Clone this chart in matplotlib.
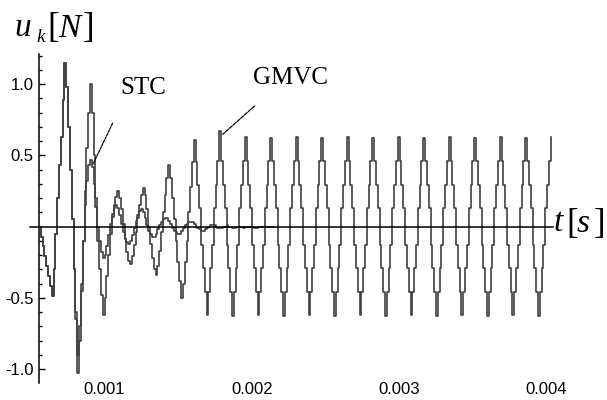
import numpy as np
import matplotlib
matplotlib.use('Agg')
import matplotlib.pyplot as plt
import matplotlib.transforms as mtransforms

# sampling grid of the recorded signals (s)
t_start = 0.000555
dt = 1.2365e-5

# control signal u_k [N], GMVC controller (zero-order hold samples)
gmvc = [0.0, -0.07, -0.14, -0.21, -0.28, -0.35, -0.42, -0.49, -0.3, -0.05,
        0.2, 0.43, 0.63, 0.89, 1.15, 0.98, 0.7, 0.4, 0.05, -0.3,
        -0.65, -1.03, -0.8, -0.45, -0.1, 0.25, 0.55, 0.8, 1.0, 0.8,
        0.5, 0.2, -0.1, -0.3, -0.48, -0.62, -0.5, -0.35, -0.2, -0.05,
        0.07, 0.15, 0.21, 0.25, 0.2, 0.12, 0.02, -0.09, -0.18, -0.24,
        -0.26, -0.21, -0.13, -0.04, 0.06, 0.15, 0.22, 0.27, 0.22, 0.12,
        0.0, -0.12, -0.22, -0.3, -0.34, -0.28, -0.17, -0.04, 0.1, 0.22,
        0.34, 0.43, 0.34, 0.2, 0.05, -0.1, -0.25, -0.38, -0.5, -0.4,
        -0.25, -0.1, 0.1, 0.28, 0.45, 0.61, 0.45, 0.29, 0.13, -0.13,
        -0.29, -0.46, -0.62, -0.46, -0.29, -0.13, 0.13, 0.29, 0.46, 0.67,
        0.46, 0.29, 0.13, -0.13, -0.29, -0.46, -0.63, -0.46, -0.29, -0.13, 0.13, 0.29, 0.46, 0.63,
        0.46, 0.29, 0.13, -0.13, -0.29, -0.46, -0.62, -0.46, -0.29, -0.13, 0.13, 0.29, 0.46, 0.62,
        0.46, 0.29, 0.13, -0.13, -0.29, -0.46, -0.63, -0.46, -0.29, -0.13, 0.13, 0.29, 0.46, 0.63,
        0.46, 0.29, 0.13, -0.13, -0.29, -0.46, -0.62, -0.46, -0.29, -0.13, 0.13, 0.29, 0.46, 0.62,
        0.46, 0.29, 0.13, -0.13, -0.29, -0.46, -0.63, -0.46, -0.29, -0.13, 0.13, 0.29, 0.46, 0.63,
        0.46, 0.29, 0.13, -0.13, -0.29, -0.46, -0.62, -0.46, -0.29, -0.13, 0.13, 0.29, 0.46, 0.62,
        0.46, 0.29, 0.13, -0.13, -0.29, -0.46, -0.63, -0.46, -0.29, -0.13, 0.13, 0.29, 0.46, 0.63,
        0.46, 0.29, 0.13, -0.13, -0.29, -0.46, -0.62, -0.46, -0.29, -0.13, 0.13, 0.29, 0.46, 0.62,
        0.46, 0.29, 0.13, -0.13, -0.29, -0.46, -0.63, -0.46, -0.29, -0.13, 0.13, 0.29, 0.46, 0.63,
        0.46, 0.29, 0.13, -0.13, -0.29, -0.46, -0.62, -0.46, -0.29, -0.13, 0.13, 0.29, 0.46, 0.62,
        0.46, 0.29, 0.13, -0.13, -0.29, -0.46, -0.63, -0.46, -0.29, -0.13, 0.13, 0.29, 0.46, 0.63,
        0.46, 0.29, 0.13, -0.13, -0.29, -0.46, -0.62, -0.46, -0.29, -0.13, 0.13, 0.29, 0.46, 0.62,
        0.46, 0.29, 0.13, -0.13, -0.29, -0.46, -0.63, -0.46, -0.29, -0.13, 0.13, 0.29, 0.46, 0.63]

# control signal u_k [N], STC controller
stc = [0.0, -0.07, -0.14, -0.21, -0.28, -0.35, -0.42, -0.49, -0.3, -0.05,
       0.2, 0.43, 0.63, 0.89, 1.15, 0.98, 0.7, 0.4, 0.05, -0.3,
       -0.6, -0.9, -0.7, -0.4, -0.1, 0.15, 0.32, 0.43, 0.47, 0.42,
       0.3, 0.14, 0.0, -0.1, -0.18, -0.22, -0.2, -0.14, -0.06, 0.02,
       0.09, 0.13, 0.15, 0.13, 0.08, 0.02, -0.04, -0.09, -0.11, -0.12,
       -0.1, -0.06, -0.01, 0.04, 0.08, 0.11, 0.12, 0.1, 0.06, 0.01,
       -0.03, -0.05, -0.07, -0.07, -0.05, -0.02, 0.01, 0.03, 0.05, 0.06,
       0.06, 0.04, 0.02, -0.01, -0.03, -0.04, -0.05, -0.05, -0.03, -0.01,
       0.01, 0.02, 0.03, 0.03, 0.03, 0.02, 0.0, -0.01, -0.02, -0.03,
       -0.03, -0.02, -0.01, 0.0, 0.01, 0.01, 0.01, 0.0, -0.01, -0.01,
       -0.01, 0.0, 0.0, 0.01, 0.0, 0.0, -0.01, -0.01, 0.0, 0.0,
       0.0, 0.0, -0.01, 0.0, 0.0, 0.0, 0.0, 0.0, -0.01, -0.01,
       0.0, 0.0, 0.0, 0.0, 0.0, 0.0, 0.0, 0.0, 0.0, 0.0]

x_ticks = [0.001, 0.002, 0.003, 0.004]
x_labels = ['0.001', '0.002', '0.003', '0.004']
y_ticks = [-1.0, -0.5, 0.5, 1.0]
y_labels = ['-1.0', '-0.5', '0.5', '1.0']

t_g = t_start + dt * np.arange(len(gmvc))
t_s = t_start + dt * np.arange(len(stc))

W, H = 607, 400
fig = plt.figure(figsize=(W / 100, H / 100), dpi=100)
ax = fig.add_axes([39 / W, 1 - 383 / H, (553 - 39) / W, (383 - 54) / H])

line_col = '#404040'
ax.plot(t_g, gmvc, drawstyle='steps-post', color=line_col, lw=1.2)
ax.plot(t_s, stc, drawstyle='steps-post', color=line_col, lw=1.2)

ax.set_xlim(0.000555, 0.004045)
ax.set_ylim(-1.098, 1.211)

for s in ['top', 'right', 'bottom']:
    ax.spines[s].set_visible(False)
ax.spines['left'].set_linewidth(1.1)

# horizontal axis through zero
trans = mtransforms.blended_transform_factory(ax.transAxes, ax.transData)
ax.plot([-0.0175, 1.0], [0, 0], color='black', lw=1.1, transform=trans, clip_on=False)

tick_font = dict(family=['Liberation Sans', 'DejaVu Sans'], size=12)
ax.set_xticks(x_ticks)
ax.set_xticklabels(x_labels, fontdict=tick_font)
ax.tick_params(axis='x', length=0, pad=-1)
ax.set_yticks(y_ticks)
ax.set_yticklabels(y_labels, fontdict=tick_font)
ax.set_yticks([v / 10 for v in range(-10, 13) if v not in (-10, -5, 0, 5, 10)], minor=True)
ax.tick_params(axis='y', which='major', direction='in', length=4, width=1, pad=4)
ax.tick_params(axis='y', which='minor', direction='in', length=2.5, width=1)

# curve labels with leader lines
ax.annotate('', xy=(t_s[29], stc[29]), xytext=(22, 46), textcoords='offset pixels',
            arrowprops=dict(arrowstyle='-', color='black', lw=0.9, ls=(0, (2, 1))))
ax.annotate('', xy=(t_g[99] + 0.8 * dt, gmvc[99] - 0.035), xytext=(36, 32),
            textcoords='offset pixels',
            arrowprops=dict(arrowstyle='-', color='black', lw=0.9, ls=(0, (3, 1))))

serif = 'Liberation Serif'


def ptext(px, py, s, size, **kw):
    fig.text(px / W, 1 - py / H, s, fontsize=size, family=serif, **kw)


ptext(143, 88, 'STC', 18, ha='center', va='center')
ptext(290, 78, 'GMVC', 18, ha='center', va='center')

# axis titles
ptext(14, 36, 'u', 24, style='italic', va='baseline')
ptext(36, 42, 'k', 14, style='italic', va='baseline')
ptext(47, 37, '[', 25, va='baseline')
ptext(58, 37, 'N', 24, style='italic', va='baseline')
ptext(83, 37, ']', 25, va='baseline')

ptext(554, 231, 't', 24, style='italic', va='baseline')
ptext(566, 233, '[', 25, va='baseline')
ptext(577, 232, 's', 24, style='italic', va='baseline')
ptext(594, 233, ']', 25, va='baseline')

fig.savefig('out.png', dpi=100)
